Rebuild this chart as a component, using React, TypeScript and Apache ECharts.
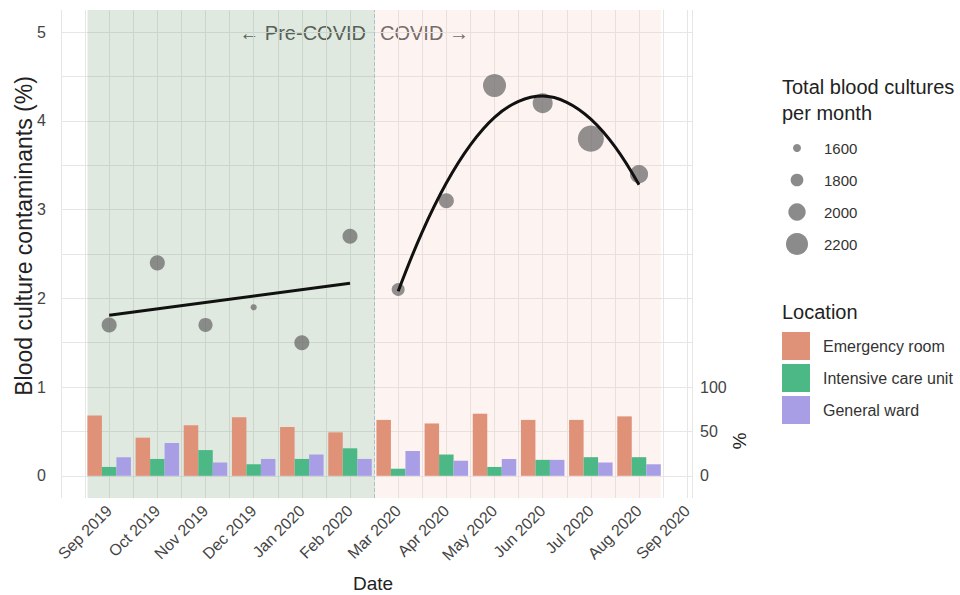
import React, { useEffect, useRef } from "react";
import * as echarts from "echarts";

// ---- data ----
const months = [
  "Sep 2019", "Oct 2019", "Nov 2019", "Dec 2019", "Jan 2020", "Feb 2020",
  "Mar 2020", "Apr 2020", "May 2020", "Jun 2020", "Jul 2020", "Aug 2020", "Sep 2020",
];
// blood culture contaminants (%) per month
const contaminants = [1.7, 2.4, 1.7, 1.9, 1.5, 2.7, 2.1, 3.1, 4.4, 4.2, 3.8, 3.4];
// total blood cultures per month
const totals = [1900, 1900, 1860, 1520, 1900, 1900, 1810, 1900, 2240, 2110, 2370, 2030];
// share of contaminants by location (%)
const emergencyRoom = [68, 43, 57, 66, 55, 49, 63, 59, 70, 63, 63, 67];
const intensiveCare = [10, 19, 29, 13, 19, 31, 8, 24, 10, 18, 21, 21];
const generalWard = [21, 37, 15, 19, 24, 19, 28, 17, 19, 18, 15, 13];
// fitted trend lines, x = month index
const preTrendX = [0, 5];
const preTrendY = [1.81, 2.17];
const covidTrendX = [6, 6.5, 7, 7.5, 8, 8.5, 9, 9.5, 10, 10.5, 11];
const covidTrendY = [2.08, 2.75, 3.3, 3.73, 4.04, 4.22, 4.28, 4.21, 4.02, 3.71, 3.28];
// size legend
const sizeLegendValues = [1600, 1800, 2000, 2200];
const locationNames = ["Emergency room", "Intensive care unit", "General ward"];

const FONT = '"Liberation Sans", Arial, Helvetica, sans-serif';
const COLORS = { er: "#e09279", icu: "#4cb886", gw: "#a89ee6" };
const POINT = "rgba(95,95,95,0.85)";
const sizeOf = (v: number) => Math.max(3, 8 + (v - 1600) * 0.0235);
const isInt = (v: number) => Math.abs(v - Math.round(v)) < 1e-6;

export default function App() {
  const ref = useRef<HTMLDivElement>(null);
  useEffect(() => {
    const chart = echarts.init(ref.current as HTMLDivElement, null, { renderer: "svg" });
    const legendGraphics: any[] = [];
    sizeLegendValues.forEach((v, k) => {
      const cy = 148 + k * 32;
      legendGraphics.push({
        type: "circle",
        shape: { cx: 797, cy, r: sizeOf(v) / 2 },
        style: { fill: "rgba(100,100,100,0.75)" },
      });
      legendGraphics.push({
        type: "text",
        x: 824,
        y: cy,
        style: { text: String(v), fontSize: 15, fill: "#333", verticalAlign: "middle", fontFamily: FONT },
      });
    });

    const option: any = {
      animation: false,
      backgroundColor: "#ffffff",
      textStyle: { fontFamily: FONT },
      grid: { left: 61, right: 268, top: 10, bottom: 97, containLabel: false },
      xAxis: {
        type: "value",
        min: -1,
        max: 12.1,
        interval: 0.5,
        axisLine: { show: false },
        axisTick: { show: false },
        splitLine: { show: true, lineStyle: { color: "#e6e6e6", width: 1 } },
        axisLabel: {
          rotate: 45,
          margin: 10,
          fontSize: 16,
          color: "#444",
          fontFamily: FONT,
          formatter: (v: number) =>
            isInt(v) && Math.round(v) >= 0 && Math.round(v) < months.length ? months[Math.round(v)] : "",
        },
      },
      yAxis: [
        {
          type: "value",
          min: -0.25,
          max: 5.25,
          interval: 0.25,
          axisLine: { show: false },
          axisTick: { show: false },
          splitLine: { show: true, lineStyle: { color: ["rgba(0,0,0,0)", "#e6e6e6"], width: 1 } },
          axisLabel: {
            fontSize: 16,
            color: "#444",
            margin: 15,
            fontFamily: FONT,
            formatter: (v: number) => (isInt(v) && v >= 0 && v <= 5 ? String(Math.round(v)) : ""),
          },
        },
        {
          type: "value",
          position: "right",
          min: -25,
          max: 525,
          interval: 25,
          axisLine: { show: false },
          axisTick: { show: false },
          splitLine: { show: false },
          axisLabel: {
            fontSize: 16,
            color: "#444",
            margin: 8,
            fontFamily: FONT,
            formatter: (v: number) =>
              isInt(v) && [0, 50, 100].indexOf(Math.round(v)) >= 0 ? String(Math.round(v)) : "",
          },
        },
      ],
      legend: {
        data: locationNames,
        orient: "vertical",
        left: 782,
        top: 332,
        padding: 0,
        itemWidth: 28,
        itemHeight: 28,
        itemGap: 4,
        icon: "rect",
        selectedMode: false,
        textStyle: { fontSize: 16, color: "#333", fontFamily: FONT, padding: [0, 0, 0, 8] },
      },
      series: [
        {
          type: "line",
          name: "periods",
          data: [],
          z: 1,
          silent: true,
          markArea: {
            silent: true,
            data: [
              [{ xAxis: -0.45, itemStyle: { color: "rgba(95,145,100,0.2)" } }, { xAxis: 5.5 }],
              [{ xAxis: 5.5, itemStyle: { color: "rgba(245,195,185,0.2)" } }, { xAxis: 11.45 }],
            ],
          },
          markLine: {
            silent: true,
            symbol: ["none", "none"],
            label: { show: false },
            lineStyle: { type: "dashed", color: "#a3c4cc", width: 1 },
            data: [{ xAxis: 5.5 }],
          },
        },
        {
          type: "bar",
          name: locationNames[0],
          yAxisIndex: 1,
          data: emergencyRoom.map((v, i) => [i, v]),
          barWidth: 14.5,
          barGap: "0%",
          itemStyle: { color: COLORS.er },
          z: 2,
        },
        {
          type: "bar",
          name: locationNames[1],
          yAxisIndex: 1,
          data: intensiveCare.map((v, i) => [i, v]),
          barWidth: 14.5,
          barGap: "0%",
          itemStyle: { color: COLORS.icu },
          z: 2,
        },
        {
          type: "bar",
          name: locationNames[2],
          yAxisIndex: 1,
          data: generalWard.map((v, i) => [i, v]),
          barWidth: 14.5,
          barGap: "0%",
          itemStyle: { color: COLORS.gw },
          z: 2,
        },
        {
          type: "scatter",
          name: "contaminants",
          data: contaminants.map((v, i) => [i, v, totals[i]]),
          symbolSize: (val: number[]) => sizeOf(val[2]),
          itemStyle: { color: POINT },
          z: 3,
        },
        {
          type: "line",
          name: "pre trend",
          data: preTrendX.map((x, i) => [x, preTrendY[i]]),
          symbol: "none",
          lineStyle: { color: "#111", width: 3 },
          z: 4,
        },
        {
          type: "line",
          name: "covid trend",
          data: covidTrendX.map((x, i) => [x, covidTrendY[i]]),
          symbol: "none",
          smooth: 0.4,
          lineStyle: { color: "#111", width: 3 },
          z: 4,
        },
      ],
      graphic: [
        {
          type: "text",
          x: 24,
          y: 236,
          rotation: Math.PI / 2,
          style: {
            text: "Blood culture contaminants (%)",
            fontSize: 23,
            fill: "#222",
            align: "center",
            verticalAlign: "middle",
            fontFamily: FONT,
          },
        },
        {
          type: "text",
          x: 373,
          y: 583,
          style: { text: "Date", fontSize: 19, fill: "#222", align: "center", verticalAlign: "middle", fontFamily: FONT },
        },
        {
          type: "text",
          x: 739,
          y: 441,
          rotation: -Math.PI / 2,
          style: { text: "%", fontSize: 19, fill: "#222", align: "center", verticalAlign: "middle", fontFamily: FONT },
        },
        {
          type: "text",
          x: 366,
          y: 33,
          style: { text: "← Pre-COVID", fontSize: 20, fill: "#555", align: "right", verticalAlign: "middle", fontFamily: FONT },
        },
        {
          type: "text",
          x: 380,
          y: 33,
          style: { text: "COVID →", fontSize: 20, fill: "#555", align: "left", verticalAlign: "middle", fontFamily: FONT },
        },
        {
          type: "text",
          x: 782,
          y: 74,
          style: {
            text: "Total blood cultures\nper month",
            fontSize: 20,
            lineHeight: 26,
            fill: "#222",
            align: "left",
            verticalAlign: "top",
            fontFamily: FONT,
          },
        },
        {
          type: "text",
          x: 782,
          y: 312,
          style: { text: "Location", fontSize: 20, fill: "#222", align: "left", verticalAlign: "middle", fontFamily: FONT },
        },
        ...legendGraphics,
      ],
    };
    chart.setOption(option);
    return () => chart.dispose();
  }, []);
  return (
    <div
      ref={ref}
      style={{ position: "absolute", left: 0, top: 0, width: 960, height: 595, background: "#fff" }}
    />
  );
}
